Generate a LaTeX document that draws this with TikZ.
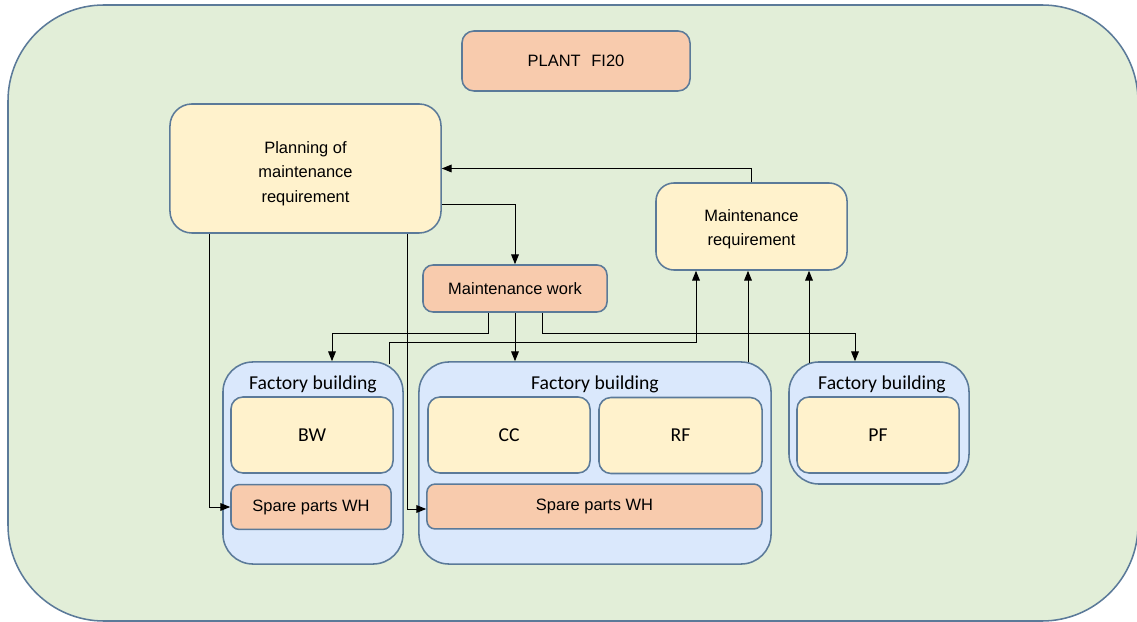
\documentclass[tikz,border=0pt]{standalone}
\usepackage{fontspec}
\setmainfont{Liberation Sans}
\newfontfamily\calfont{Carlito}
\usetikzlibrary{arrows.meta,calc}

\definecolor{plantgreen}{HTML}{E2EED8}
\definecolor{boxyellow}{HTML}{FFF2CC}
\definecolor{boxsalmon}{HTML}{F8CBAD}
\definecolor{boxblue}{HTML}{DAE8FC}
\definecolor{edgeblue}{HTML}{5B7A99}

\tikzset{
  unit/.style={draw=edgeblue, line width=1.1pt, inner sep=0pt, align=center,
    font=\fontsize{11.7}{17.4}\selectfont},
  yellowunit/.style={unit, fill=boxyellow},
  salmonunit/.style={unit, fill=boxsalmon},
  unittext/.style={inner sep=0pt, align=center, font=\fontsize{11.7}{17.4}\selectfont},
  building/.style={unit, fill=boxblue, rounded corners=0.75cm,
    minimum width=4.5cm, minimum height=5.05cm},
  dept/.style={yellowunit, rounded corners=0.3cm, minimum width=4.05cm,
    minimum height=1.9cm, font=\calfont\fontsize{14}{17}\selectfont},
  sparewh/.style={salmonunit, rounded corners=0.2cm, minimum height=1.12cm},
  bldlabel/.style={inner sep=0pt, font=\calfont\fontsize{14}{17}\selectfont},
  arr/.style={-{Triangle[length=7pt,width=5.5pt]}, line width=0.7pt},
}

\begin{document}
\begin{tikzpicture}[x=0.025cm,y=-0.025cm]
\useasboundingbox (0,0) rectangle (1137,622);

% plant area
\draw[draw=edgeblue, fill=plantgreen, line width=1.1pt, rounded corners=2.4cm]
  (8,5) rectangle (1138,621);

\node[salmonunit, rounded corners=0.3cm, minimum width=5.7cm, minimum height=1.5cm]
  (plant) at (576,61) {PLANT\hspace{0.65em}FI20};

\node[yellowunit, rounded corners=0.55cm, minimum width=6.775cm, minimum height=3.225cm]
  (plan) at (305.5,168.5) {};
\node[unittext] (plantxt) at ($(plan)+(0,5)$) {Planning of\\maintenance\\requirement};
\node[yellowunit, rounded corners=0.45cm, minimum width=4.775cm, minimum height=2.175cm]
  (req) at (751.5,226.5) {};
\node[unittext] (reqtxt) at ($(req)+(0,3)$) {Maintenance\\requirement};
\node[salmonunit, rounded corners=0.25cm, minimum width=4.6cm, minimum height=1.175cm]
  (work) at (515,288.5) {Maintenance work};

% factory buildings
\node[building] (lfb) at (313,463) {};
\node[building, minimum width=8.8cm] (mfb) at (595,463) {};
\node[building, minimum height=3.05cm] (rfb) at (879,423) {};

\node[bldlabel] (lfbt) at (313,384) {Factory building};
\node[bldlabel] (mfbt) at (595,384) {Factory building};
\node[bldlabel] (rfbt) at (882,384) {Factory building};

\node[dept] (bw) at (312,435) {BW};
\node[dept] (cc) at (509,435) {CC};
\node[dept, minimum width=4.075cm] (rf) at (680.5,435.5) {RF};
\node[dept] (pf) at (878,435) {PF};

\node[sparewh, minimum width=4cm] (lsp) at (311,507) {Spare parts WH};
\node[sparewh, minimum width=8.375cm] (msp) at (594.5,506.5) {Spare parts WH};

% connectors
\draw[arr] (req.north) |- (plan.east);
\draw[arr] ($(plan.east)+(0,35.5)$) -| (work.north);
\draw[arr] ($(plan.south)+(-96.5,0)$) |- (lsp.west);
\draw[arr] ($(plan.south)+(101.5,0)$) |- ($(msp.west)+(0,2.5)$);

\draw[arr] ($(work.south)+(-27,0)$) -- ++(0,21) -| ($(lfb.north)+(19,0)$);
\draw[arr] (work.south) -- (work.south |- mfb.north);
\draw[arr] ($(work.south)+(27,0)$) -- ++(0,21) -| ($(rfb.north)+(-24,0)$);

\draw[arr] ($(lfb.north)+(76,3)$) -- ++(0,-22) -| ($(req.south)+(-55.5,0)$);
\draw[arr] ($(mfb.north)+(153,1)$) coordinate (m9) -- (m9 |- req.south);
\draw[arr] ($(rfb.north)+(-70,2)$) coordinate (r10) -- (r10 |- req.south);
\end{tikzpicture}
\end{document}
